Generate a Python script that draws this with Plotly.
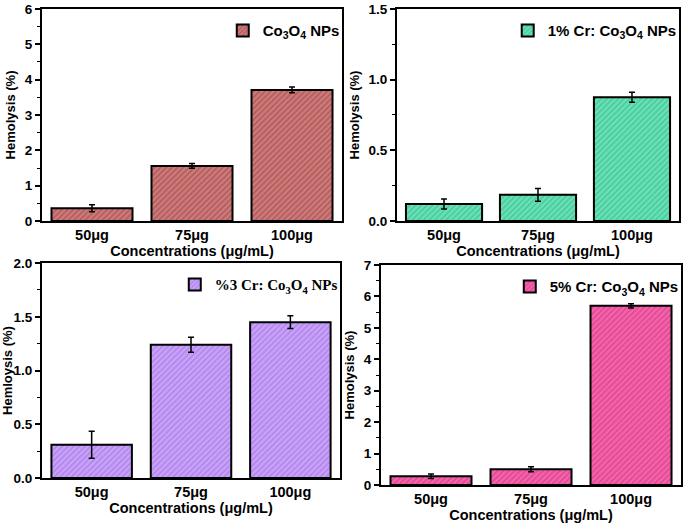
import plotly.graph_objects as go

categories = ["50μg", "75μg", "100μg"]

co3o4_vals = [0.36, 1.56, 3.71]
co3o4_err = [0.10, 0.07, 0.08]

cr1_vals = [0.12, 0.185, 0.875]
cr1_err = [0.035, 0.045, 0.035]

cr3_vals = [0.31, 1.24, 1.45]
cr3_err = [0.125, 0.07, 0.06]

cr5_vals = [0.28, 0.50, 5.70]
cr5_err = [0.07, 0.08, 0.07]

names = ["Co<sub>3</sub>O<sub>4</sub> NPs",
         "1% Cr: Co<sub>3</sub>O<sub>4</sub> NPs",
         "%3 Cr: Co<sub>3</sub>O<sub>4</sub> NPs",
         "5% Cr: Co<sub>3</sub>O<sub>4</sub> NPs"]

fig = go.Figure()

panels = [
    dict(vals=co3o4_vals, err=co3o4_err, bg="#cd7a7a", fg="#8e3434", ax="", ymax=6, dtick=1,
         xd=[0.0613, 0.4993], yd=[0.579, 0.983], ytitle="Hemolysis (%)", lfont="Liberation Sans"),
    dict(vals=cr1_vals, err=cr1_err, bg="#66e2b6", fg="#2aa57c", ax="2", ymax=1.5, dtick=0.5,
         xd=[0.5796, 0.9912], yd=[0.579, 0.983], ytitle="Hemolysis (%)", lfont="Liberation Sans"),
    dict(vals=cr3_vals, err=cr3_err, bg="#c9a2f8", fg="#8f5fe0", ax="3", ymax=2.0, dtick=0.5,
         xd=[0.0613, 0.4964], yd=[0.0895, 0.499], ytitle="Hemloysis (%)", lfont="Liberation Serif"),
    dict(vals=cr5_vals, err=cr5_err, bg="#f264aa", fg="#cf1f78", ax="4", ymax=7, dtick=1,
         xd=[0.5562, 0.9942], yd=[0.0762, 0.4952], ytitle="Hemolysis (%)", lfont="Liberation Sans"),
]

layout = {}
for i, p in enumerate(panels):
    ax = p["ax"]
    leg = "legend" + ax
    fig.add_trace(go.Bar(
        x=categories, y=p["vals"], name=names[i],
        xaxis="x" + ax, yaxis="y" + ax, legend=leg,
        marker=dict(color=p["bg"], line=dict(color="black", width=2),
                    pattern=dict(shape="/", fgcolor=p["fg"], bgcolor=p["bg"], size=4, solidity=0.35)),
        error_y=dict(type="data", array=p["err"], color="black", thickness=1.5, width=3),
        showlegend=True,
    ))
    axis_common = dict(showline=True, linecolor="black", linewidth=2, mirror=True, automargin=False,
                       ticklabeloverflow="allow")
    layout["xaxis" + ax] = dict(
        domain=p["xd"], anchor="y" + ax, range=[-0.5, 2.5], ticks="",
        tickfont=dict(family="Liberation Sans", size=14.5, color="black", weight="bold"),
        title=dict(text="Concentrations (μg/mL)", standoff=2,
                   font=dict(family="Liberation Sans", size=14.5, color="black", weight="bold")),
        **axis_common)
    layout["yaxis" + ax] = dict(
        domain=p["yd"], anchor="x" + ax, range=[0, p["ymax"]], dtick=p["dtick"],
        tickformat=".1f" if p["dtick"] < 1 else "d",
        ticks="outside", ticklen=5, tickwidth=1.5, tickcolor="black",
        minor=dict(dtick=p["dtick"] / 2, ticks="outside", ticklen=3, tickwidth=1.2, tickcolor="black"),
        showgrid=False, zeroline=False,
        tickfont=dict(family="Liberation Sans", size=13.5, color="black", weight="bold"),
        title=dict(text=p["ytitle"], standoff=6,
                   font=dict(family="Liberation Sans", size=13, color="black", weight="bold")),
        **axis_common)
    layout[leg] = dict(
        x=p["xd"][1] + 0.004, xanchor="right", y=p["yd"][1] - 0.01, yanchor="top",
        bgcolor="rgba(0,0,0,0)", borderwidth=0,
        font=dict(family=p["lfont"], size=15, color="black", weight="bold"),
    )

fig.update_layout(
    width=685, height=525,
    margin=dict(l=0, r=0, t=0, b=0),
    paper_bgcolor="white", plot_bgcolor="white",
    bargap=0.19,
    **layout,
)

fig.write_html("out.html", config={"displayModeBar": False},
               post_script="document.body.style.margin='0';document.body.style.overflow='hidden';")
